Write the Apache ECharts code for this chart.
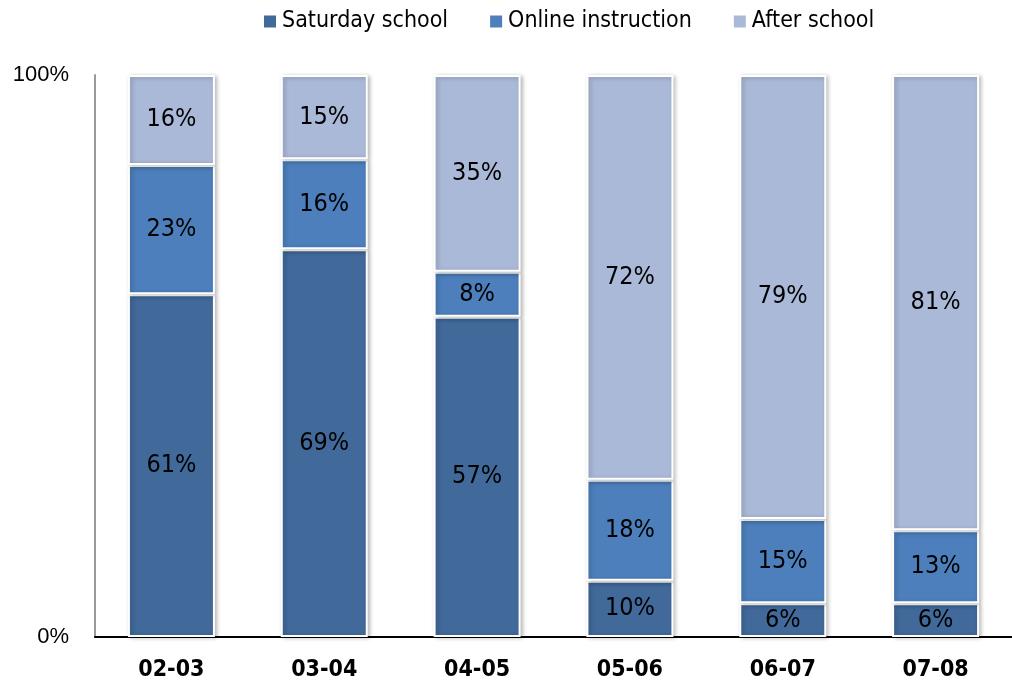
<!DOCTYPE html>
<html>
<head>
<meta charset="utf-8">
<script src="https://cdn.jsdelivr.net/npm/echarts@6/dist/echarts.min.js"></script>
<style>html,body{margin:0;padding:0;background:#fff}#c{width:1012px;height:694px}</style>
</head>
<body>
<div id="c"></div>
<script>
var categories = ['02-03', '03-04', '04-05', '05-06', '06-07', '07-08'];
var saturdaySchool = [61, 69, 57, 10, 6, 6];
var onlineInstruction = [23, 16, 8, 18, 15, 13];
var afterSchool = [16, 15, 35, 72, 79, 81];
var seriesNames = ['Saturday school', 'Online instruction', 'After school'];
var colors = ['#41699A', '#4C7FBB', '#AAB9D7'];

var narrow = '"Liberation Sans Narrow", "DejaVu Sans Condensed", sans-serif';
function mk(name, data, color) {
  return {
    name: name, type: 'bar', stack: 'total', data: data, barWidth: 87,
    itemStyle: { color: color, borderColor: '#fff', borderWidth: 2,
      shadowBlur: 4, shadowColor: 'rgba(0,0,0,0.25)', shadowOffsetX: 2, shadowOffsetY: 1 },
    label: { show: true, position: 'inside', formatter: '{c}%', color: '#000',
      fontFamily: narrow, fontSize: 25 }
  };
}
var chart = echarts.init(document.getElementById('c'), null, { renderer: 'canvas' });
chart.setOption({
  animation: false,
  color: colors,
  legend: {
    top: 5, left: 257, itemWidth: 14, itemHeight: 14, itemGap: 40,
    icon: 'rect',
    textStyle: { fontFamily: narrow, fontSize: 23, color: '#000' },
    data: seriesNames
  },
  grid: { left: 95, right: -12, top: 75, bottom: 57, containLabel: false },
  xAxis: {
    type: 'category', data: categories,
    axisLine: { lineStyle: { color: '#000', width: 2 } },
    axisTick: { show: false },
    axisLabel: { fontFamily: narrow, fontWeight: 'bold', fontSize: 23, color: '#000', margin: 22 }
  },
  yAxis: {
    type: 'value', min: 0, max: 100, interval: 100,
    splitLine: { show: false },
    axisLine: { show: true, lineStyle: { color: '#999', width: 2 } },
    axisTick: { show: false },
    axisLabel: { formatter: '{value}%', fontFamily: '"Liberation Sans", sans-serif', fontSize: 22, color: '#000', margin: 26 }
  },
  series: [
    mk(seriesNames[0], saturdaySchool, colors[0]),
    mk(seriesNames[1], onlineInstruction, colors[1]),
    mk(seriesNames[2], afterSchool, colors[2])
  ]
});
</script>
</body>
</html>
